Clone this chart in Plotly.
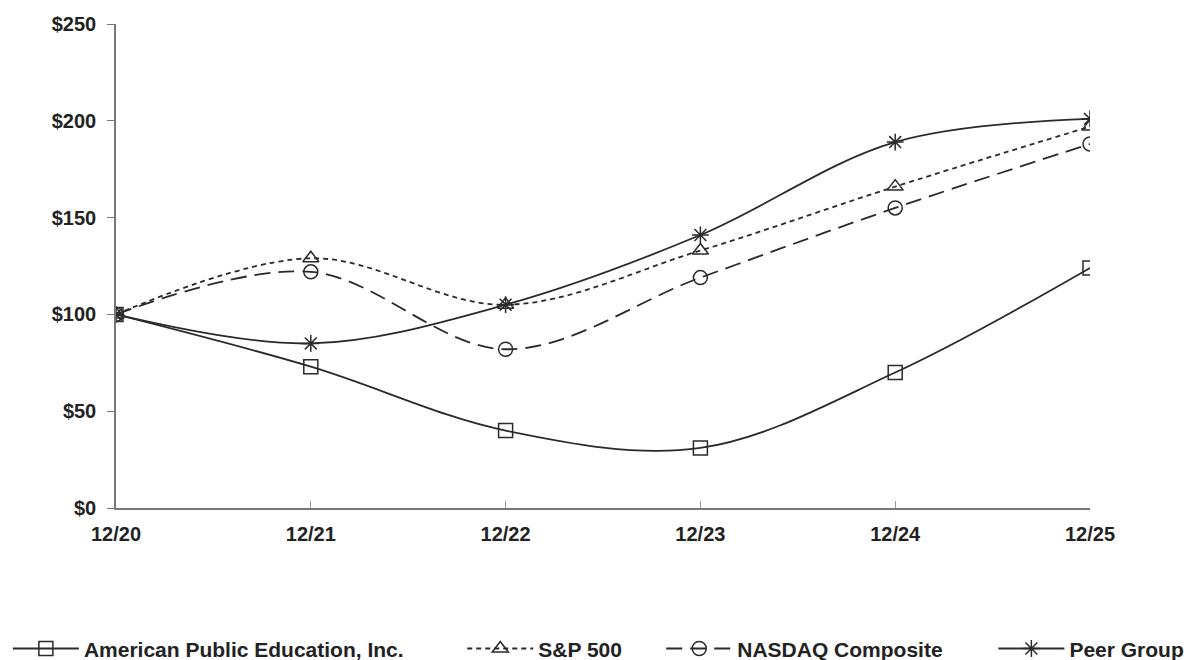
import plotly.graph_objects as go

periods = ["12/20", "12/21", "12/22", "12/23", "12/24", "12/25"]
apei = [100, 73, 40, 31, 70, 124]
sp500 = [100, 129, 105, 133, 166, 197]
nasdaq = [100, 122, 82, 119, 155, 188]
peer = [100, 85, 105, 141, 189, 201]

series_names = ["American Public Education, Inc.", "S&P 500", "NASDAQ Composite", "Peer Group"]
y_ticks = [0, 50, 100, 150, 200, 250]
y_tick_labels = ["$0", "$50", "$100", "$150", "$200", "$250"]

ink = "#2a2a2a"
styles = [
    dict(dash="solid", symbol="square-open", legend="legend", lx=-0.111),
    dict(dash="5px,4px", symbol="triangle-up-open", legend="legend2", lx=0.3555),
    dict(dash="16px,8px", symbol="circle-open", legend="legend3", lx=0.5598),
    dict(dash="solid", symbol="asterisk-open", legend="legend4", lx=0.9008),
]

fig = go.Figure()
for name, vals, st in zip(series_names, [apei, sp500, nasdaq, peer], styles):
    fig.add_trace(go.Scatter(
        x=periods, y=vals, name=name, mode="lines+markers", legend=st["legend"],
        line=dict(color=ink, width=1.8, dash=st["dash"], shape="spline", smoothing=1),
        marker=dict(symbol=st["symbol"], size=14, color=ink, line=dict(color=ink, width=1.5)),
    ))

legend_font = dict(size=21, family="Liberation Sans", weight="bold", color="#222")
legend_layouts = {}
for st in styles:
    legend_layouts[st["legend"]] = dict(
        orientation="h", x=st["lx"], xanchor="left", y=-0.291, yanchor="middle",
        font=legend_font, itemwidth=66,
        bgcolor="rgba(0,0,0,0)", borderwidth=0,
    )

fig.update_layout(
    width=1199, height=660,
    margin=dict(l=108, r=117, t=16, b=160, autoexpand=False),
    paper_bgcolor="white", plot_bgcolor="white",
    font=dict(family="Liberation Sans", size=20, color="#222"),
    showlegend=True,
    **legend_layouts,
)
fig.update_xaxes(
    type="category", range=[0, 5], showline=True, linecolor="#777", linewidth=1.5,
    ticks="inside", ticklen=7, tickcolor="#999", showgrid=False, zeroline=False,
    tickfont=dict(size=20, family="Liberation Sans", weight="bold", color="#222"), ticklabelstandoff=7,
)
fig.update_yaxes(
    range=[0, 250], tickvals=y_ticks, ticktext=y_tick_labels,
    showline=True, linecolor="#777", linewidth=1.5, ticks="outside", ticklen=7,
    tickcolor="#777", showgrid=False, zeroline=False,
    tickfont=dict(size=20, family="Liberation Sans", weight="bold", color="#222"), ticklabelstandoff=7,
)
fig.write_html("out.html")
